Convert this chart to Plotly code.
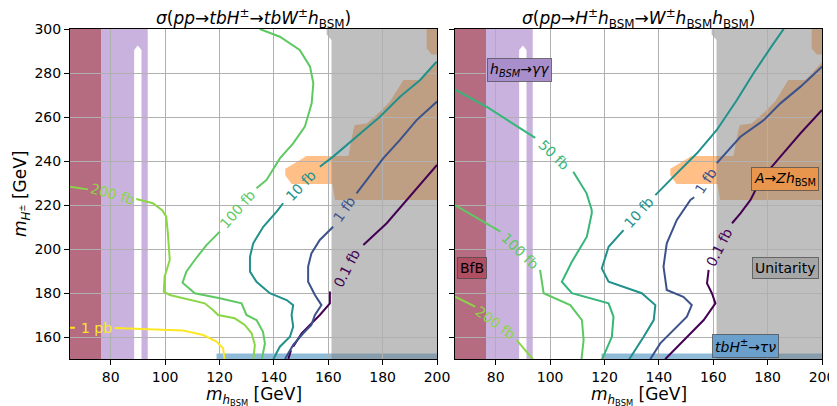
import plotly.graph_objects as go

FONT = "DejaVu Sans"
X_RANGE = [65, 200]
Y_RANGE = [150, 300]
X_TICKS = [80, 100, 120, 140, 160, 180, 200]
Y_TICKS = [160, 180, 200, 220, 240, 260, 280, 300]

# ---------------- excluded regions (data coords) ----------------
BFB_X = [65, 76.4, 76.4, 65]
BFB_Y = [150, 150, 300, 300]
GG_X = [76.4, 88.6, 88.6, 89.95, 91.3, 91.3, 93.6, 93.6, 76.4]
GG_Y = [150, 150, 290.5, 292.5, 290.5, 150, 150, 300, 300]
AZH_X = [152.0, 161.5, 167.4, 169.2, 169.8, 174.1, 179.0, 182.7, 184.6, 187.6, 193.8, 196.2, 200.0,
         200.0, 162.5, 161.5, 146.5, 144.2, 144.2, 147.0]
AZH_Y = [242.3, 242.3, 242.3, 254.0, 256.4, 257.1, 262.4, 267.0, 270.8, 276.8, 276.8, 279.8, 285.0,
         222.3, 222.3, 229.5, 229.5, 233.5, 236.5, 238.5]
AZH2_X = [196.2, 196.2, 198.0, 200.0, 200.0]
AZH2_Y = [300.0, 291.2, 288.4, 288.4, 300.0]
TAU_X = [118.9, 200, 200, 118.9]
TAU_Y = [150, 150, 152.5, 152.5]
UNI_X = [161.2, 200, 200, 159.4, 159.4, 161.2]
UNI_Y = [150, 150, 300, 300, 297.5, 295.0]

# ---------------- left panel contours ----------------
L_1PB_X = [65, 66.8, None, 81.4, 94.3, 106.6, 114.0, 118.9, 121.3, 121.9]
L_1PB_Y = [164.2, 164.2, None, 164.1, 163.6, 162.9, 160.9, 157.9, 154.9, 149.5]
L_200_X = [65, 71.6, None, 89.4, 95.5, 99.0, 100.4, 101.0, 101.6, 101.7, 99.8, 99.5, 101.7, 109.1, 114.6,
           117.6, 119.5, 125.6, 129.3, 131.8, 133.0, 132.4]
L_200_Y = [228.3, 227.1, None, 222.7, 220.8, 217.5, 214.7, 207.1, 199.5, 195.0, 187.4, 180.6, 179.1, 176.8,
           175.3, 172.3, 170.0, 168.5, 165.5, 161.7, 156.4, 149.5]
L_100_X = [134.8, 142.2, 149.5, 153.3, 154.5, 153.9, 151.4, 147.1, 142.2, 137.3, 133.6, None,
           120.1, 115.2, 110.9, 107.8, 106.4, 110.9, 120.1, 128.1, 129.9, 133.6, 136.0, 136.7, 135.5]
L_100_Y = [300.0, 296.5, 290.5, 282.9, 275.3, 266.2, 255.6, 248.0, 241.2, 231.4, 227.6, None,
           207.9, 201.8, 195.0, 189.7, 184.7, 179.9, 177.6, 175.3, 170.0, 167.7, 162.4, 157.1, 149.5]
L_10_X = [200.0, 199.3, 193.8, 186.4, 179.0, 170.5, 161.8, 156.9, None,
          143.4, 141.0, 136.1, 132.4, 131.2, 131.2, 133.6, 138.5, 144.7, 147.1, 146.5, 147.1, 145.9, 142.2, 139.8]
L_10_Y = [285.1, 284.4, 276.8, 269.2, 260.1, 251.0, 242.0, 237.4, None,
          220.8, 217.0, 210.1, 202.6, 196.5, 189.7, 185.1, 179.9, 176.8, 174.5, 170.0, 164.7, 160.1, 155.6, 150.0]
L_1_X = [200.0, 192.5, 186.3, 180.2, 170.4, None,
         161.8, 156.9, 153.8, 152.6, 152.6, 155.1, 157.5, 155.1, 153.8, 150.8, 147.1, 144.7, 144.1]
L_1_Y = [267.0, 258.6, 249.5, 241.2, 225.3, None,
         210.1, 204.1, 198.0, 192.0, 185.1, 179.1, 174.5, 170.0, 165.5, 161.7, 156.4, 151.0, 150.0]
L_01_X = [200.0, 192.5, 188.8, 181.5, 172.9, None,
          160.6, 160.6, 156.9, 153.2, 150.2, 147.1, None, 146.3, 145.3]
L_01_Y = [238.2, 227.6, 222.3, 211.7, 201.8, None,
          180.7, 175.3, 170.0, 165.5, 161.7, 155.6, None, 154.0, 150.0]

# ---------------- right panel contours ----------------
R_200_X = [65, 72.4, None, 87.7, 93.9]
R_200_Y = [178.3, 173.8, None, 158.6, 149.5]
R_100_X = [65, 81.7, None, 96.3, 97.6, 107.4, 111.7, 112.3, 111.5]
R_100_Y = [220.0, 207.9, None, 190.5, 179.9, 174.5, 167.7, 158.6, 149.5]
R_50_X = [65, 77.3, 94.5, None, 108.5, 113.4, 115.3, 115.3, 113.5, 108.0, 104.3, 108.0, 121.5, 123.3, 122.7, 119.0]
R_50_Y = [272.4, 264.1, 250.5, None, 235.1, 225.3, 217.7, 216.2, 205.6, 194.2, 185.1, 179.9, 175.3, 169.2, 160.1, 149.5]
R_10_X = [185.9, 182.2, 174.8, 168.7, 161.3, 154.0, 145.4, 138.7, None,
          127.0, 121.5, 119.0, 121.5, 133.7, 138.7, 138.1, 134.4, 128.9]
R_10_Y = [300.0, 293.5, 279.9, 267.7, 254.1, 243.5, 232.9, 224.5, None,
          208.6, 201.0, 191.2, 185.1, 179.9, 174.5, 167.7, 160.1, 149.5]
R_1_X = [200.0, 192.1, 184.7, 178.6, 170.0, 161.3, None,
         153.0, 151.6, 146.6, 142.9, 141.7, 142.9, 149.0, 152.1, 150.3, 145.4, 140.5, 136.8]
R_1_Y = [282.9, 273.8, 266.2, 258.6, 251.0, 239.0, None,
         223.5, 222.3, 213.2, 202.6, 192.0, 181.4, 178.3, 174.5, 169.2, 163.2, 157.1, 149.9]
R_01_X = [200.0, 192.1, 184.7, 177.4, 173.7, 170.0, 166.9, None,
          158.3, 157.7, 159.5, 160.8, 156.5, 151.6, 146.6, 142.3]
R_01_Y = [263.2, 252.6, 242.0, 231.4, 222.3, 216.2, 211.7, None,
          190.5, 184.4, 179.9, 175.3, 167.7, 161.7, 155.6, 149.9]

C_01 = "#440154"
C_1 = "#3b528b"
C_10 = "#21918c"
C_50 = "#35b779"
C_100 = "#5ec962"
C_200 = "#8bd646"
C_1PB = "#fde725"

# (x, y, text, angle, color)
L_LABELS = [
    (74.7, 164.1, "1 pb", 0, C_1PB),
    (80.6, 225.0, "200 fb", 16, C_200),
    (126.7, 218.2, "100 fb", -49, C_100),
    (149.8, 228.6, "10 fb", -46, C_10),
    (166.0, 218.0, "1 fb", -55, C_1),
    (166.8, 191.5, "0.1 fb", -63, C_01),
]
R_LABELS = [
    (80.0, 166.5, "200 fb", 36, C_200),
    (89.0, 199.3, "100 fb", 44, C_100),
    (101.5, 242.8, "50 fb", 44, C_50),
    (132.8, 216.6, "10 fb", -48, C_10),
    (157.2, 231.0, "1 fb", -57, C_1),
    (162.3, 200.8, "0.1 fb", -63, C_01),
]

fig = go.Figure()


def add_line(xs, ys, color, ax):
    fig.add_trace(go.Scatter(x=xs, y=ys, mode="lines", line=dict(color=color, width=2),
                             xaxis="x" if ax == 1 else "x2", yaxis="y" if ax == 1 else "y2",
                             showlegend=False, hoverinfo="skip", connectgaps=False))


for xs, ys, c in [(L_01_X, L_01_Y, C_01), (L_1_X, L_1_Y, C_1), (L_10_X, L_10_Y, C_10),
                  (L_100_X, L_100_Y, C_100), (L_200_X, L_200_Y, C_200), (L_1PB_X, L_1PB_Y, C_1PB)]:
    add_line(xs, ys, c, 1)
for xs, ys, c in [(R_01_X, R_01_Y, C_01), (R_1_X, R_1_Y, C_1), (R_10_X, R_10_Y, C_10),
                  (R_50_X, R_50_Y, C_50), (R_100_X, R_100_Y, C_100), (R_200_X, R_200_Y, C_200)]:
    add_line(xs, ys, c, 2)


def path(xs, ys):
    return "M " + " L ".join(f"{x},{y}" for x, y in zip(xs, ys)) + " Z"


regions = [
    (BFB_X, BFB_Y, "rgb(181,107,128)"),
    (GG_X, GG_Y, "rgba(148,103,189,0.5)"),
    (AZH_X, AZH_Y, "rgba(255,127,14,0.5)"),
    (AZH2_X, AZH2_Y, "rgba(255,127,14,0.5)"),
    (TAU_X, TAU_Y, "rgba(31,119,180,0.5)"),
    (UNI_X, UNI_Y, "rgba(128,128,128,0.5)"),
]
shapes = []
for xr, yr in [("x", "y"), ("x2", "y2")]:
    for xs, ys, col in regions:
        shapes.append(dict(type="path", path=path(xs, ys), xref=xr, yref=yr, layer="below",
                           fillcolor=col, line=dict(width=0)))

annotations = []
for labels, xr, yr in [(L_LABELS, "x", "y"), (R_LABELS, "x2", "y2")]:
    for x, y, t, a, c in labels:
        annotations.append(dict(x=x, y=y, xref=xr, yref=yr, text=t, textangle=a, showarrow=False,
                                xanchor="center", yanchor="middle",
                                font=dict(family=FONT, size=14, color=c)))

boxes = [
    (88.6, 281.4, "<i>h</i><sub><i>BSM</i></sub>→<i>γγ</i>", "rgb(168,143,203)"),
    (71.3, 191.4, "BfB", "rgb(176,78,98)"),
    (186.5, 231.8, "<i>A</i>→<i>Zh</i><sub>BSM</sub>", "rgb(232,150,78)"),
    (186.7, 191.4, "Unitarity", "rgb(166,166,166)"),
    (171.8, 155.9, "<i>tbH</i><sup>±</sup>→<i>τν</i>", "rgb(108,160,204)"),
]
for x, y, t, c in boxes:
    annotations.append(dict(x=x, y=y, xref="x2", yref="y2", text=t, showarrow=False,
                            xanchor="center", yanchor="middle",
                            font=dict(family=FONT, size=14, color="black"),
                            bgcolor=c, bordercolor="rgba(70,70,70,0.7)", borderwidth=1, borderpad=2))

# page body has an 8 px margin: figure is placed at (8, 8) of the 837x406 window
OFF = 8
W, H = 837 - OFF, 406 - OFF


def px_x(p):
    return (p - OFF) / W


def px_y(p):
    return 1 - (p - OFF) / H


L_DOM = [px_x(70), px_x(437)]
R_DOM = [px_x(455), px_x(822)]
Y_DOM = [px_y(359), px_y(29)]

annotations += [
    dict(x=(L_DOM[0] + L_DOM[1]) / 2, y=px_y(18.5), xref="paper", yref="paper", showarrow=False,
         xanchor="center", yanchor="middle",
         text="<i>σ</i>(<i>pp</i>→<i>tbH</i><sup>±</sup>→<i>tbW</i><sup>±</sup><i>h</i><sub>BSM</sub>)",
         font=dict(family=FONT, size=17, color="black")),
    dict(x=(R_DOM[0] + R_DOM[1]) / 2, y=px_y(18.5), xref="paper", yref="paper", showarrow=False,
         xanchor="center", yanchor="middle",
         text="<i>σ</i>(<i>pp</i>→<i>H</i><sup>±</sup><i>h</i><sub>BSM</sub>→<i>W</i><sup>±</sup><i>h</i><sub>BSM</sub><i>h</i><sub>BSM</sub>)",
         font=dict(family=FONT, size=17, color="black")),
    dict(x=(L_DOM[0] + L_DOM[1]) / 2, y=px_y(396), xref="paper", yref="paper", showarrow=False,
         xanchor="center", yanchor="middle",
         text="<i>m</i><sub><i>h</i><sub>BSM</sub></sub> [GeV]", font=dict(family=FONT, size=17, color="black")),
    dict(x=(R_DOM[0] + R_DOM[1]) / 2, y=px_y(396), xref="paper", yref="paper", showarrow=False,
         xanchor="center", yanchor="middle",
         text="<i>m</i><sub><i>h</i><sub>BSM</sub></sub> [GeV]", font=dict(family=FONT, size=17, color="black")),
    dict(x=px_x(21), y=px_y(194), xref="paper", yref="paper", showarrow=False, textangle=-90,
         xanchor="center", yanchor="middle",
         text="<i>m</i><sub><i>H</i><sup>±</sup></sub> [GeV]", font=dict(family=FONT, size=17, color="black")),
]

axis_common = dict(showline=True, mirror=True, linecolor="black", linewidth=1,
                   ticks="outside", ticklen=5, tickwidth=1, tickcolor="black", automargin=False,
                   showgrid=True, gridcolor="#b0b0b0", gridwidth=1, zeroline=False,
                   tickfont=dict(family=FONT, size=14, color="black"))

fig.update_layout(
    template="none",
    width=W, height=H, margin=dict(l=0, r=0, t=0, b=0, pad=0), autosize=False,
    paper_bgcolor="white", plot_bgcolor="white",
    xaxis=dict(axis_common, domain=L_DOM, range=X_RANGE, tickvals=X_TICKS, anchor="y"),
    yaxis=dict(axis_common, domain=Y_DOM, range=Y_RANGE, tickvals=Y_TICKS, anchor="x"),
    xaxis2=dict(axis_common, domain=R_DOM, range=X_RANGE, tickvals=X_TICKS, anchor="y2"),
    yaxis2=dict(axis_common, domain=Y_DOM, range=Y_RANGE, tickvals=Y_TICKS, anchor="x2",
                showticklabels=False),
    shapes=shapes, annotations=annotations, showlegend=False,
)

fig.write_html("out.html")
